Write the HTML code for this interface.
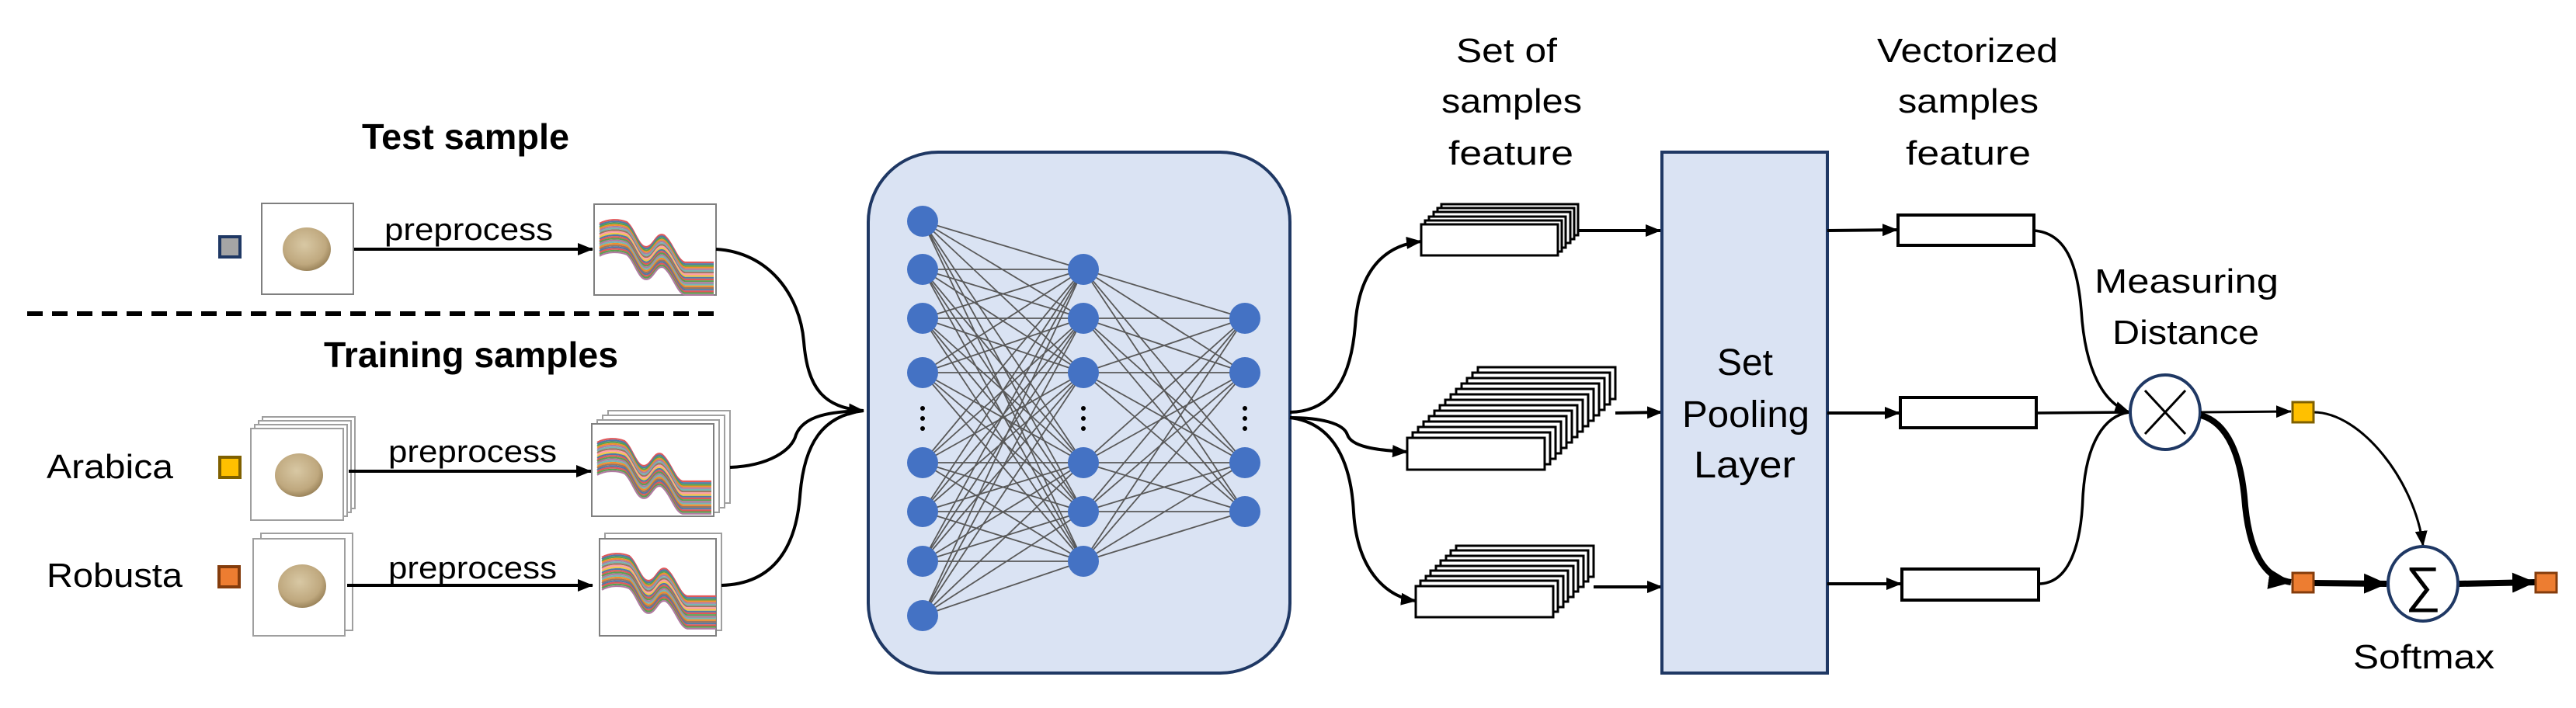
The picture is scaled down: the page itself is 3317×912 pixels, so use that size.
<!DOCTYPE html>
<html><head><meta charset="utf-8"><style>
html,body{margin:0;padding:0;background:#fff;}
svg{display:block;}
text{font-family:"Liberation Sans",sans-serif;fill:#000;}
</style></head><body>
<svg width="3317" height="912" viewBox="0 0 3317 912" xmlns="http://www.w3.org/2000/svg">
<defs>
<marker id="ah" markerUnits="userSpaceOnUse" markerWidth="20" markerHeight="16" refX="19" refY="8" orient="auto"><path d="M0,0 L20,8 L0,16 z" fill="#000"/></marker>
<marker id="ahb" markerUnits="userSpaceOnUse" markerWidth="30" markerHeight="26" refX="29" refY="13" orient="auto"><path d="M0,0 L30,13 L0,26 z" fill="#000"/></marker>
<radialGradient id="pg" cx="45%" cy="40%" r="60%"><stop offset="0" stop-color="#d8c8a4"/><stop offset="0.75" stop-color="#bfa87e"/><stop offset="1" stop-color="#9c855c"/></radialGradient>
<path id="sp" fill="none" stroke-width="2.2" d="M5,12 C15,6 30,6 40,10 C50,18 55,42 65,42 C75,42 78,22 88,27 C100,37 105,60 115,62 L152,62"/>
<g id="spec">
<use href="#sp" stroke="#e15759" transform="translate(0,0)"/>
<use href="#sp" stroke="#4e79a7" transform="translate(0,2.2)"/>
<use href="#sp" stroke="#59a14f" transform="translate(0,4.4)"/>
<use href="#sp" stroke="#f28e2b" transform="translate(0,6.6)"/>
<use href="#sp" stroke="#b07aa1" transform="translate(0,8.8)"/>
<use href="#sp" stroke="#76b7b2" transform="translate(0,11)"/>
<use href="#sp" stroke="#9c755f" transform="translate(0,13.2)"/>
<use href="#sp" stroke="#ff9da7" transform="translate(0,15.4)"/>
<use href="#sp" stroke="#edc948" transform="translate(0,17.6)"/>
<use href="#sp" stroke="#4e79a7" transform="translate(0,19.8)"/>
<use href="#sp" stroke="#e15759" transform="translate(0,22)"/>
<use href="#sp" stroke="#59a14f" transform="translate(0,24.2)"/>
<use href="#sp" stroke="#b07aa1" transform="translate(0,26.4)"/>
<use href="#sp" stroke="#76b7b2" transform="translate(0,28.6)"/>
<use href="#sp" stroke="#f28e2b" transform="translate(0,30.8)"/>
<use href="#sp" stroke="#9c755f" transform="translate(0,33)"/>
<use href="#sp" stroke="#4e79a7" transform="translate(0,35.2)"/>
<use href="#sp" stroke="#e15759" transform="translate(0,37.4)"/>
<use href="#sp" stroke="#59a14f" transform="translate(0,39.6)"/>
<use href="#sp" stroke="#b07aa1" transform="translate(0,41.8)"/>
</g>
</defs>

<text x="466" y="192" font-size="46" font-weight="bold" textLength="267" lengthAdjust="spacingAndGlyphs">Test sample</text>
<text x="417" y="473" font-size="46" font-weight="bold" textLength="379" lengthAdjust="spacingAndGlyphs">Training samples</text>
<text x="60" y="616" font-size="44" textLength="163" lengthAdjust="spacingAndGlyphs">Arabica</text>
<text x="60" y="756" font-size="44" textLength="175" lengthAdjust="spacingAndGlyphs">Robusta</text>

<line x1="35" y1="404" x2="926" y2="404" stroke="#000" stroke-width="6" stroke-dasharray="20 12"/>

<rect x="283" y="305" width="26" height="26" fill="#a5a5a5" stroke="#1f3864" stroke-width="4"/>
<rect x="283" y="589" width="26" height="26" fill="#ffc000" stroke="#7f6000" stroke-width="4"/>
<rect x="282" y="730" width="26" height="26" fill="#ed7d31" stroke="#843c0c" stroke-width="4"/>

<rect x="337" y="262" width="118" height="117" fill="#fff" stroke="#7f7f7f" stroke-width="2"/>
<ellipse cx="395" cy="321" rx="31" ry="28" fill="url(#pg)"/>
<text x="495" y="309" font-size="40" textLength="217" lengthAdjust="spacingAndGlyphs">preprocess</text>
<line x1="456" y1="321" x2="763" y2="321" stroke="#000" stroke-width="4" marker-end="url(#ah)"/>
<rect x="765" y="263" width="157" height="117" fill="#fff" stroke="#7f7f7f" stroke-width="2"/>
<use href="#spec" x="767" y="276"/>

<rect x="338" y="537" width="119" height="118" fill="#fff" stroke="#9f9f9f" stroke-width="2"/>
<rect x="333" y="542" width="119" height="118" fill="#fff" stroke="#9f9f9f" stroke-width="2"/>
<rect x="328" y="547" width="119" height="118" fill="#fff" stroke="#9f9f9f" stroke-width="2"/>
<rect x="323" y="552" width="119" height="118" fill="#fff" stroke="#9f9f9f" stroke-width="2"/>
<ellipse cx="385" cy="612" rx="31" ry="28" fill="url(#pg)"/>
<text x="500" y="595" font-size="40" textLength="217" lengthAdjust="spacingAndGlyphs">preprocess</text>
<line x1="449" y1="607" x2="761" y2="607" stroke="#000" stroke-width="4" marker-end="url(#ah)"/>
<rect x="783" y="529" width="157" height="119" fill="#fff" stroke="#9f9f9f" stroke-width="2"/>
<rect x="776" y="535" width="157" height="119" fill="#fff" stroke="#9f9f9f" stroke-width="2"/>
<rect x="769" y="541" width="157" height="119" fill="#fff" stroke="#9f9f9f" stroke-width="2"/>
<rect x="762" y="546" width="157" height="119" fill="#fff" stroke="#7f7f7f" stroke-width="2"/>
<use href="#spec" x="764" y="558"/>

<rect x="336" y="687" width="118" height="125" fill="#fff" stroke="#9f9f9f" stroke-width="2"/>
<rect x="326" y="694" width="118" height="125" fill="#fff" stroke="#9f9f9f" stroke-width="2"/>
<ellipse cx="389" cy="755" rx="31" ry="28" fill="url(#pg)"/>
<text x="500" y="745" font-size="40" textLength="217" lengthAdjust="spacingAndGlyphs">preprocess</text>
<line x1="447" y1="754" x2="763" y2="754" stroke="#000" stroke-width="4" marker-end="url(#ah)"/>
<rect x="779" y="687" width="150" height="125" fill="#fff" stroke="#9f9f9f" stroke-width="2"/>
<rect x="772" y="694" width="150" height="125" fill="#fff" stroke="#7f7f7f" stroke-width="2"/>
<use href="#spec" x="770" y="706"/>

<g fill="none" stroke="#000" stroke-width="4">
<path d="M922,321 C990,325 1030,380 1035,440 C1040,500 1060,525 1112,529" marker-end="url(#ah)"/>
<path d="M940,602 C990,600 1020,580 1025,560 C1035,535 1070,530 1112,529"/>
<path d="M929,754 C1000,752 1025,700 1030,640 C1035,570 1060,535 1112,529"/>
</g>

<rect x="1118" y="196" width="543" height="671" rx="90" ry="90" fill="#dae3f3" stroke="#1f3864" stroke-width="4"/>
<path fill="none" stroke="#595959" stroke-width="1.8" d="
M1188 285L1395 347M1188 285L1395 410M1188 285L1395 480M1188 285L1395 596M1188 285L1395 659M1188 285L1395 723
M1188 347L1395 347M1188 347L1395 410M1188 347L1395 480M1188 347L1395 596M1188 347L1395 659M1188 347L1395 723
M1188 410L1395 347M1188 410L1395 410M1188 410L1395 480M1188 410L1395 596M1188 410L1395 659M1188 410L1395 723
M1188 480L1395 347M1188 480L1395 410M1188 480L1395 480M1188 480L1395 596M1188 480L1395 659M1188 480L1395 723
M1188 596L1395 347M1188 596L1395 410M1188 596L1395 480M1188 596L1395 596M1188 596L1395 659M1188 596L1395 723
M1188 659L1395 347M1188 659L1395 410M1188 659L1395 480M1188 659L1395 596M1188 659L1395 659M1188 659L1395 723
M1188 723L1395 347M1188 723L1395 410M1188 723L1395 480M1188 723L1395 596M1188 723L1395 659M1188 723L1395 723
M1188 793L1395 347M1188 793L1395 410M1188 793L1395 480M1188 793L1395 596M1188 793L1395 659M1188 793L1395 723
M1395 347L1603 410M1395 347L1603 480M1395 347L1603 596M1395 347L1603 659
M1395 410L1603 410M1395 410L1603 480M1395 410L1603 596M1395 410L1603 659
M1395 480L1603 410M1395 480L1603 480M1395 480L1603 596M1395 480L1603 659
M1395 596L1603 410M1395 596L1603 480M1395 596L1603 596M1395 596L1603 659
M1395 659L1603 410M1395 659L1603 480M1395 659L1603 596M1395 659L1603 659
M1395 723L1603 410M1395 723L1603 480M1395 723L1603 596M1395 723L1603 659"/>
<g fill="#4472c4">
<circle cx="1188" cy="285" r="20"/><circle cx="1188" cy="347" r="20"/><circle cx="1188" cy="410" r="20"/><circle cx="1188" cy="480" r="20"/>
<circle cx="1188" cy="596" r="20"/><circle cx="1188" cy="659" r="20"/><circle cx="1188" cy="723" r="20"/><circle cx="1188" cy="793" r="20"/>
<circle cx="1395" cy="347" r="20"/><circle cx="1395" cy="410" r="20"/><circle cx="1395" cy="480" r="20"/>
<circle cx="1395" cy="596" r="20"/><circle cx="1395" cy="659" r="20"/><circle cx="1395" cy="723" r="20"/>
<circle cx="1603" cy="410" r="20"/><circle cx="1603" cy="480" r="20"/><circle cx="1603" cy="596" r="20"/><circle cx="1603" cy="659" r="20"/>
</g>
<g fill="#000">
<circle cx="1188" cy="526" r="3"/><circle cx="1188" cy="539" r="3"/><circle cx="1188" cy="552" r="3"/>
<circle cx="1395" cy="526" r="3"/><circle cx="1395" cy="539" r="3"/><circle cx="1395" cy="552" r="3"/>
<circle cx="1603" cy="526" r="3"/><circle cx="1603" cy="539" r="3"/><circle cx="1603" cy="552" r="3"/>
</g>

<g fill="none" stroke="#000" stroke-width="4">
<path d="M1661,531 C1720,530 1740,480 1745,420 C1750,340 1790,315 1830,311" marker-end="url(#ah)"/>
<path d="M1661,538 C1700,538 1730,545 1735,560 C1740,575 1770,580 1812,582" marker-end="url(#ah)"/>
<path d="M1661,538 C1720,545 1740,600 1743,660 C1748,740 1790,770 1823,774" marker-end="url(#ah)"/>
</g>

<text x="1875" y="80" font-size="44" textLength="130" lengthAdjust="spacingAndGlyphs">Set of</text>
<text x="1856" y="145" font-size="44" textLength="181" lengthAdjust="spacingAndGlyphs">samples</text>
<text x="1865" y="212" font-size="44" textLength="161" lengthAdjust="spacingAndGlyphs">feature</text>

<g fill="#fff" stroke="#000" stroke-width="3">
<rect x="1856" y="263" width="176" height="40"/><rect x="1851" y="268" width="176" height="40"/><rect x="1846" y="273" width="176" height="40"/>
<rect x="1840" y="279" width="176" height="40"/><rect x="1835" y="284" width="176" height="40"/><rect x="1830" y="289" width="176" height="40"/>

<rect x="1903" y="473" width="177" height="41"/><rect x="1896" y="480" width="177" height="41"/><rect x="1889" y="487" width="177" height="41"/>
<rect x="1882" y="494" width="177" height="41"/><rect x="1875" y="501" width="177" height="41"/><rect x="1868" y="508" width="177" height="41"/>
<rect x="1861" y="515" width="177" height="41"/><rect x="1854" y="522" width="177" height="41"/><rect x="1847" y="529" width="177" height="41"/>
<rect x="1840" y="536" width="177" height="41"/><rect x="1833" y="543" width="177" height="41"/><rect x="1826" y="550" width="177" height="41"/>
<rect x="1819" y="557" width="177" height="41"/><rect x="1812" y="564" width="177" height="41"/>

<rect x="1875" y="703" width="177" height="40"/><rect x="1868" y="709" width="177" height="40"/><rect x="1862" y="716" width="177" height="40"/>
<rect x="1855" y="722" width="177" height="40"/><rect x="1849" y="729" width="177" height="40"/><rect x="1842" y="735" width="177" height="40"/>
<rect x="1836" y="742" width="177" height="40"/><rect x="1829" y="748" width="177" height="40"/><rect x="1823" y="755" width="177" height="40"/>
</g>
<g stroke="#000" stroke-width="4">
<line x1="2032" y1="297" x2="2138" y2="297" marker-end="url(#ah)"/>
<line x1="2080" y1="532" x2="2140" y2="531" marker-end="url(#ah)"/>
<line x1="2052" y1="756" x2="2140" y2="756" marker-end="url(#ah)"/>
</g>

<rect x="2140" y="196" width="213" height="671" fill="#dae3f3" stroke="#1f3864" stroke-width="4"/>
<text x="2247" y="483" font-size="48" text-anchor="middle">Set</text>
<text x="2166" y="550" font-size="48" textLength="164" lengthAdjust="spacingAndGlyphs">Pooling</text>
<text x="2181" y="615" font-size="48" textLength="131" lengthAdjust="spacingAndGlyphs">Layer</text>

<text x="2417" y="80" font-size="44" textLength="233" lengthAdjust="spacingAndGlyphs">Vectorized</text>
<text x="2444" y="145" font-size="44" textLength="181" lengthAdjust="spacingAndGlyphs">samples</text>
<text x="2454" y="212" font-size="44" textLength="161" lengthAdjust="spacingAndGlyphs">feature</text>

<g stroke="#000" stroke-width="4">
<line x1="2353" y1="297" x2="2443" y2="296" marker-end="url(#ah)"/>
<line x1="2353" y1="532" x2="2446" y2="532" marker-end="url(#ah)"/>
<line x1="2353" y1="752" x2="2448" y2="752" marker-end="url(#ah)"/>
</g>
<g fill="#fff" stroke="#000" stroke-width="4">
<rect x="2444" y="277" width="175" height="39"/>
<rect x="2447" y="512" width="175" height="39"/>
<rect x="2449" y="733" width="176" height="40"/>
</g>

<g fill="none" stroke="#000" stroke-width="3.5">
<path d="M2619,297 C2660,300 2675,340 2680,400 C2685,480 2710,520 2742,531" marker-end="url(#ah)"/>
<path d="M2622,532 L2742,531"/>
<path d="M2625,752 C2665,752 2680,700 2682,640 C2686,570 2710,535 2742,531"/>
</g>

<text x="2697" y="377" font-size="44" textLength="237" lengthAdjust="spacingAndGlyphs">Measuring</text>
<text x="2720" y="443" font-size="44" textLength="189" lengthAdjust="spacingAndGlyphs">Distance</text>

<ellipse cx="2788" cy="531" rx="45" ry="48" fill="#fff" stroke="#1f3864" stroke-width="4"/>
<line x1="2762" y1="503" x2="2814" y2="559" stroke="#000" stroke-width="3"/>
<line x1="2814" y1="503" x2="2762" y2="559" stroke="#000" stroke-width="3"/>

<g fill="none" stroke="#000">
<line x1="2834" y1="531" x2="2950" y2="530" stroke-width="3" marker-end="url(#ah)"/>
<path d="M2834,535 C2870,545 2885,590 2890,640 C2895,710 2915,745 2950,750" stroke-width="8" marker-end="url(#ahb)"/>
<path d="M2979,531 C3040,531 3110,620 3120,703" stroke-width="3" marker-end="url(#ah)"/>
<line x1="2979" y1="751" x2="3073" y2="752" stroke-width="8" marker-end="url(#ahb)"/>
<line x1="3166" y1="752" x2="3264" y2="750" stroke-width="8" marker-end="url(#ahb)"/>
</g>
<rect x="2952" y="518" width="27" height="26" fill="#ffc000" stroke="#7f6000" stroke-width="3"/>
<rect x="2952" y="738" width="27" height="25" fill="#ed7d31" stroke="#843c0c" stroke-width="3"/>
<rect x="3265" y="738" width="27" height="25" fill="#ed7d31" stroke="#843c0c" stroke-width="3"/>

<ellipse cx="3120" cy="752" rx="45" ry="48" fill="#fff" stroke="#1f3864" stroke-width="4"/>
<text x="3120" y="775" font-size="64" text-anchor="middle" font-family="Liberation Serif, serif">∑</text>

<text x="3030" y="861" font-size="44" textLength="182" lengthAdjust="spacingAndGlyphs">Softmax</text>
</svg>
</body></html>
